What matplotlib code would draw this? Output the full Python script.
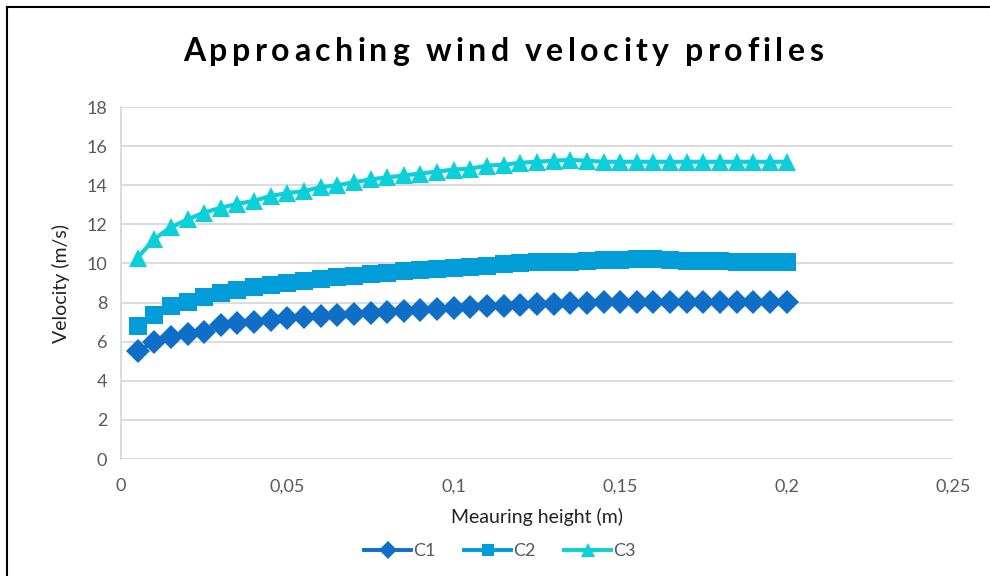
import numpy as np
import matplotlib
matplotlib.use("Agg")
import matplotlib.pyplot as plt
from matplotlib.lines import Line2D

plt.rcParams['font.family'] = ['Lato', 'DejaVu Sans']

# measuring heights (m) and approaching velocities (m/s)
heights = [0.005, 0.01, 0.015, 0.02, 0.025, 0.03, 0.035, 0.04, 0.045, 0.05,
           0.055, 0.06, 0.065, 0.07, 0.075, 0.08, 0.085, 0.09, 0.095, 0.1,
           0.105, 0.11, 0.115, 0.12, 0.125, 0.13, 0.135, 0.14, 0.145, 0.15,
           0.155, 0.16, 0.165, 0.17, 0.175, 0.18, 0.185, 0.19, 0.195, 0.2]

c1 = [5.5, 6.0, 6.25, 6.4, 6.5, 6.85, 6.95, 7.0, 7.1, 7.2,
      7.25, 7.3, 7.35, 7.4, 7.45, 7.5, 7.55, 7.6, 7.65, 7.7,
      7.75, 7.8, 7.85, 7.9, 7.95, 7.95, 8.0, 8.0, 8.05, 8.05,
      8.05, 8.05, 8.05, 8.05, 8.05, 8.05, 8.05, 8.05, 8.05, 8.05]

c2 = [6.8, 7.35, 7.85, 8.05, 8.3, 8.5, 8.65, 8.8, 8.9, 9.0,
      9.1, 9.2, 9.3, 9.35, 9.45, 9.5, 9.6, 9.65, 9.7, 9.75,
      9.8, 9.85, 9.95, 10.0, 10.05, 10.05, 10.1, 10.15, 10.2, 10.2,
      10.25, 10.25, 10.2, 10.15, 10.15, 10.15, 10.1, 10.1, 10.1, 10.1]

c3 = [10.3, 11.25, 11.85, 12.25, 12.6, 12.85, 13.05, 13.2, 13.45, 13.6,
      13.7, 13.9, 14.0, 14.15, 14.3, 14.4, 14.5, 14.6, 14.7, 14.8,
      14.85, 15.0, 15.05, 15.15, 15.2, 15.25, 15.3, 15.25, 15.2, 15.2,
      15.2, 15.2, 15.2, 15.2, 15.2, 15.2, 15.2, 15.2, 15.2, 15.2]

xticks = [0, 0.05, 0.1, 0.15, 0.2, 0.25]
xtick_labels = ['0', '0,05', '0,1', '0,15', '0,2', '0,25']
yticks = [0, 2, 4, 6, 8, 10, 12, 14, 16, 18]

title = 'Approaching wind velocity profiles'

fig = plt.figure(figsize=(9.9, 5.76), dpi=100)
ax = fig.add_axes([0.1222, 0.2031, 0.8404, 0.6111])

styles = [('#0F6FC6', 'D', 12.5), ('#009DD9', 's', 12.3), ('#0BD0D9', '^', 13.5)]
for y, (col, mk, ms), name in zip([c1, c2, c3], styles, ['C1', 'C2', 'C3']):
    ax.plot(heights, y, color=col, lw=3, marker=mk, ms=ms, mew=0, label=name)

ax.set_xlim(0, 0.25)
ax.set_ylim(0, 18)
ax.set_xticks(xticks)
ax.set_xticklabels(xtick_labels)
ax.set_yticks(yticks)
ax.tick_params(length=0, labelsize=13, colors='#595959', pad=10)
ax.tick_params(axis='x', pad=14)
ax.grid(axis='y', color='#D9D9D9', lw=1.3)
ax.set_axisbelow(True)
for s in ['top', 'right', 'bottom']:
    ax.spines[s].set_visible(False)
ax.spines['left'].set_color('#D9D9D9')
ax.spines['left'].set_linewidth(1.3)

ax.set_ylabel('Velocity (m/s)', fontsize=14, color='#222222', labelpad=12)
ax.set_xlabel('Meauring height (m)', fontsize=14, color='#222222', labelpad=10)

# title with extra letter spacing, placed char by char
renderer = fig.canvas.get_renderer()
tracking = 4.4  # px added after each character
tkw = dict(fontsize=23, fontweight='bold', color='black', va='center')
probe = fig.text(0, 0, title, **tkw)
full_w = probe.get_window_extent(renderer).width + tracking * (len(title) - 1)
x0 = 0.508 * fig.bbox.width - full_w / 2
for i, ch in enumerate(title):
    probe.set_text(title[:i])
    w = probe.get_window_extent(renderer).width if i else 0
    fig.text((x0 + w + i * tracking) / fig.bbox.width, 0.911, ch, ha='left', **tkw)
probe.remove()

handles = [Line2D([], [], color=c, lw=2.8, marker=m, ms=ms * 0.75, mew=0) for c, m, ms in styles]
fig.legend(handles, ['C1', 'C2', 'C3'], loc='center', bbox_to_anchor=(0.505, 0.043),
           ncol=3, frameon=False, fontsize=13, handlelength=2.6, columnspacing=1.6,
           handletextpad=0.1, labelcolor='#595959')

# frame lines along the top and left edge
fig.add_artist(Line2D([0.007, 1.0], [0.988, 0.988], color='black', lw=1.5, transform=fig.transFigure))
fig.add_artist(Line2D([0.007, 0.007], [0.0, 0.988], color='black', lw=1.5, transform=fig.transFigure))

fig.savefig('out.png', dpi=100)
